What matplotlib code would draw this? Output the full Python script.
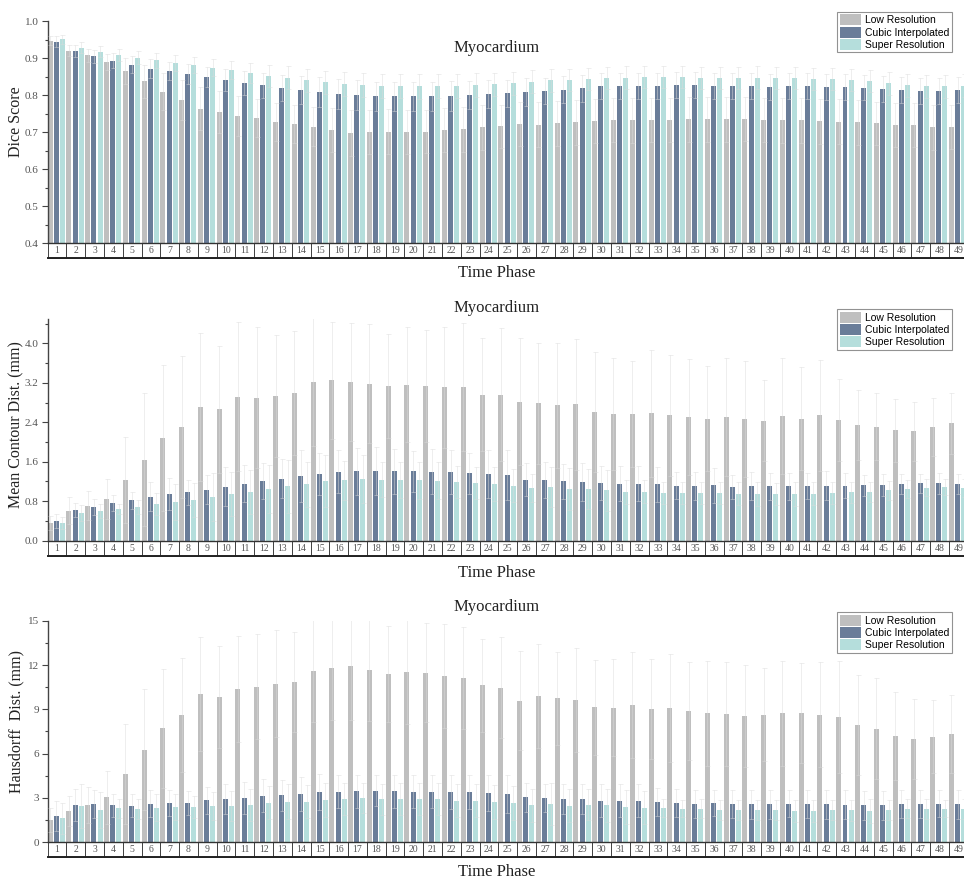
import numpy as np
import matplotlib
matplotlib.use("Agg")
import matplotlib.pyplot as plt
import matplotlib.transforms as mtransforms
from matplotlib.patches import Rectangle
from matplotlib.ticker import MultipleLocator, FormatStrFormatter

# ---- data ----
phases = list(range(1, 50))
series_names = ["Low Resolution", "Cubic Interpolated", "Super Resolution"]

dice_low = [0.948, 0.921, 0.908, 0.890, 0.865, 0.838, 0.809, 0.787, 0.764, 0.755, 0.744, 0.738, 0.728, 0.722, 0.715,
            0.706, 0.699, 0.701, 0.701, 0.701, 0.702, 0.706, 0.708, 0.713, 0.716, 0.722, 0.721, 0.724, 0.727, 0.731, 0.733, 0.732,
            0.733, 0.733, 0.735, 0.735, 0.735, 0.736, 0.733, 0.732, 0.732, 0.730, 0.729, 0.727, 0.724, 0.720, 0.719, 0.714, 0.714]
dice_cubic = [0.945, 0.919, 0.905, 0.894, 0.883, 0.872, 0.865, 0.858, 0.850, 0.841, 0.834, 0.827, 0.820, 0.815, 0.809,
              0.804, 0.800, 0.797, 0.797, 0.797, 0.797, 0.798, 0.800, 0.803, 0.805, 0.809, 0.812, 0.815, 0.819, 0.824, 0.825, 0.826,
              0.826, 0.828, 0.827, 0.826, 0.826, 0.826, 0.823, 0.825, 0.824, 0.822, 0.823, 0.821, 0.818, 0.814, 0.812, 0.812, 0.815]
dice_super = [0.951, 0.929, 0.918, 0.910, 0.902, 0.895, 0.888, 0.882, 0.875, 0.868, 0.861, 0.852, 0.847, 0.841, 0.835,
              0.831, 0.828, 0.825, 0.825, 0.824, 0.825, 0.825, 0.827, 0.830, 0.833, 0.837, 0.840, 0.841, 0.843, 0.846, 0.848, 0.850,
              0.849, 0.849, 0.847, 0.847, 0.847, 0.848, 0.846, 0.846, 0.845, 0.843, 0.841, 0.838, 0.832, 0.827, 0.824, 0.824, 0.826]
dice_low_err = [0.012, 0.015, 0.018, 0.022, 0.035, 0.045, 0.050, 0.055, 0.058, 0.057, 0.055, 0.052, 0.052, 0.052, 0.053,
                0.060, 0.062, 0.060, 0.061, 0.060, 0.059, 0.060, 0.061, 0.060, 0.059, 0.060, 0.061, 0.060, 0.060, 0.059, 0.060, 0.060,
                0.060, 0.059, 0.060, 0.061, 0.060, 0.060, 0.059, 0.060, 0.060, 0.061, 0.060, 0.060, 0.059, 0.060, 0.060, 0.061, 0.060]
dice_cubic_err = [0.015, 0.016, 0.018, 0.020, 0.022, 0.025, 0.025, 0.027, 0.027, 0.030, 0.032, 0.034, 0.036, 0.038, 0.040,
                  0.040, 0.040, 0.039, 0.040, 0.040, 0.039, 0.040, 0.038, 0.038, 0.037, 0.037, 0.036, 0.036, 0.036, 0.035, 0.035, 0.035,
                  0.035, 0.034, 0.035, 0.035, 0.035, 0.035, 0.035, 0.034, 0.035, 0.035, 0.035, 0.035, 0.035, 0.035, 0.036, 0.035, 0.035]
dice_super_err = [0.012, 0.014, 0.015, 0.016, 0.018, 0.020, 0.022, 0.022, 0.022, 0.025, 0.027, 0.030, 0.031, 0.031, 0.032,
                  0.033, 0.033, 0.033, 0.032, 0.033, 0.033, 0.032, 0.032, 0.031, 0.031, 0.031, 0.030, 0.030, 0.030, 0.030, 0.030, 0.030,
                  0.030, 0.030, 0.030, 0.030, 0.030, 0.030, 0.030, 0.030, 0.030, 0.030, 0.030, 0.030, 0.031, 0.031, 0.031, 0.031, 0.031]

mcd_low = [0.36, 0.61, 0.71, 0.85, 1.23, 1.64, 2.09, 2.30, 2.70, 2.66, 2.92, 2.90, 2.93, 2.99, 3.21,
           3.25, 3.22, 3.18, 3.13, 3.16, 3.13, 3.11, 3.11, 2.96, 2.96, 2.82, 2.78, 2.74, 2.76, 2.61, 2.57, 2.57,
           2.58, 2.54, 2.51, 2.47, 2.51, 2.47, 2.43, 2.53, 2.47, 2.54, 2.45, 2.34, 2.31, 2.24, 2.22, 2.30, 2.38]
mcd_cubic = [0.40, 0.615, 0.69, 0.757, 0.818, 0.892, 0.946, 0.98, 1.034, 1.095, 1.155, 1.21, 1.257, 1.31, 1.35,
             1.40, 1.405, 1.41, 1.405, 1.405, 1.40, 1.39, 1.365, 1.35, 1.33, 1.24, 1.23, 1.20, 1.19, 1.17, 1.155, 1.155,
             1.14, 1.115, 1.108, 1.12, 1.095, 1.108, 1.10, 1.10, 1.108, 1.115, 1.115, 1.12, 1.128, 1.155, 1.16, 1.16, 1.15]
mcd_super = [0.36, 0.561, 0.608, 0.642, 0.682, 0.743, 0.784, 0.824, 0.885, 0.946, 0.986, 1.047, 1.10, 1.142, 1.21,
             1.22, 1.25, 1.24, 1.23, 1.22, 1.216, 1.19, 1.17, 1.15, 1.115, 1.07, 1.09, 1.05, 1.05, 1.02, 0.99, 0.99,
             0.966, 0.96, 0.966, 0.96, 0.953, 0.946, 0.953, 0.946, 0.953, 0.96, 0.98, 0.993, 1.02, 1.054, 1.074, 1.088, 1.074]
mcd_low_err = [0.14, 0.27, 0.29, 0.41, 0.87, 1.35, 1.48, 1.44, 1.50, 1.29, 1.51, 1.42, 1.23, 1.26, 1.30,
               1.19, 1.20, 1.21, 1.05, 1.16, 1.13, 1.23, 1.30, 1.14, 1.34, 1.29, 1.23, 1.26, 1.32, 1.21, 1.13, 1.07,
               1.28, 1.22, 1.17, 1.06, 1.20, 1.18, 0.82, 1.18, 1.04, 1.12, 0.83, 0.71, 0.68, 0.64, 0.60, 0.59, 0.62]
mcd_cubic_err = [0.15, 0.14, 0.16, 0.16, 0.17, 0.29, 0.33, 0.26, 0.30, 0.39, 0.37, 0.37, 0.40, 0.52, 0.43,
                 0.44, 0.47, 0.48, 0.45, 0.41, 0.46, 0.45, 0.42, 0.48, 0.51, 0.34, 0.36, 0.35, 0.38, 0.35, 0.35, 0.35,
                 0.35, 0.28, 0.28, 0.36, 0.24, 0.28, 0.28, 0.28, 0.27, 0.29, 0.25, 0.21, 0.22, 0.20, 0.20, 0.21, 0.21]
mcd_super_err = [0.13, 0.16, 0.14, 0.11, 0.14, 0.22, 0.36, 0.34, 0.49, 0.45, 0.45, 0.48, 0.53, 0.45, 0.53,
                 0.40, 0.49, 0.35, 0.36, 0.37, 0.37, 0.33, 0.32, 0.34, 0.33, 0.28, 0.40, 0.42, 0.40, 0.41, 0.25, 0.23,
                 0.23, 0.22, 0.22, 0.22, 0.23, 0.24, 0.22, 0.24, 0.23, 0.22, 0.21, 0.20, 0.19, 0.18, 0.17, 0.17, 0.18]

hd_low = [1.51, 2.14, 2.55, 3.05, 4.62, 6.27, 7.71, 8.59, 10.04, 9.83, 10.40, 10.53, 10.74, 10.85, 11.62,
          11.78, 11.91, 11.64, 11.39, 11.53, 11.48, 11.26, 11.14, 10.62, 10.47, 9.59, 9.90, 9.75, 9.63, 9.14, 9.11, 9.29,
          9.02, 9.09, 8.87, 8.73, 8.69, 8.55, 8.64, 8.73, 8.73, 8.64, 8.48, 7.92, 7.69, 7.20, 6.99, 7.15, 7.31]
hd_cubic = [1.78, 2.50, 2.57, 2.50, 2.48, 2.62, 2.66, 2.68, 2.84, 2.93, 3.00, 3.14, 3.18, 3.25, 3.41,
            3.43, 3.45, 3.50, 3.45, 3.43, 3.43, 3.41, 3.38, 3.34, 3.27, 3.05, 2.98, 2.93, 2.91, 2.82, 2.80, 2.82,
            2.73, 2.66, 2.59, 2.66, 2.59, 2.57, 2.57, 2.62, 2.59, 2.57, 2.53, 2.50, 2.50, 2.57, 2.57, 2.62, 2.57]
hd_super = [1.62, 2.46, 2.19, 2.30, 2.26, 2.35, 2.41, 2.39, 2.46, 2.46, 2.53, 2.68, 2.75, 2.75, 2.89,
            2.91, 3.00, 2.93, 2.91, 2.93, 2.91, 2.82, 2.82, 2.73, 2.64, 2.50, 2.59, 2.48, 2.53, 2.50, 2.41, 2.35,
            2.30, 2.28, 2.28, 2.21, 2.19, 2.19, 2.19, 2.14, 2.14, 2.19, 2.17, 2.12, 2.19, 2.28, 2.23, 2.28, 2.26]
hd_low_err = [0.79, 1.02, 1.22, 1.78, 3.41, 4.11, 4.04, 3.86, 3.88, 3.48, 3.59, 3.55, 3.61, 3.41, 3.50,
              3.50, 3.60, 3.40, 3.25, 3.50, 3.34, 3.49, 3.46, 3.14, 3.40, 3.36, 3.50, 3.15, 3.50, 3.20, 3.30, 3.60,
              3.39, 3.63, 3.33, 3.56, 3.51, 3.43, 3.14, 3.56, 3.38, 3.54, 3.77, 3.38, 3.41, 3.00, 2.69, 2.48, 2.64]
hd_cubic_err = [1.00, 1.09, 0.95, 0.79, 0.79, 0.90, 0.86, 0.82, 0.90, 0.99, 1.08, 1.12, 1.04, 1.15, 1.19,
                1.13, 1.10, 1.06, 1.10, 1.12, 1.10, 1.14, 1.15, 1.20, 1.28, 0.98, 0.95, 1.00, 1.02, 1.10, 1.12, 1.10,
                0.95, 0.92, 0.95, 0.90, 0.95, 0.97, 0.97, 0.92, 0.95, 0.97, 0.98, 1.00, 1.00, 0.95, 0.95, 0.92, 0.97]
hd_super_err = [1.04, 1.46, 1.24, 0.65, 0.69, 0.92, 0.88, 0.77, 0.95, 0.99, 1.08, 1.13, 1.20, 1.11, 1.15,
                1.08, 1.00, 1.05, 1.08, 1.06, 1.08, 1.10, 1.10, 1.12, 1.15, 1.10, 1.40, 1.10, 1.05, 1.10, 1.15, 1.10,
                0.60, 0.60, 0.62, 0.68, 0.70, 0.70, 0.70, 0.75, 0.75, 0.70, 0.72, 0.78, 0.70, 0.62, 0.68, 0.60, 0.65]

colors = ["#bfbfbf", "#6a7d99", "#b5dedc"]
offsets = [-0.367, -0.035, 0.286]
bar_w = 0.266

serif = "Liberation Serif"
W, H = 964, 880


def draw_panel(ax, vals, errs, ylim, major, minor, fmt, ylabel, ylab_y, title, title_y, xlab_y, leg_top):
    x = np.array(phases)
    for k in range(3):
        ax.bar(x + offsets[k], vals[k], width=bar_w, color=colors[k], label=series_names[k], zorder=2)
        ax.errorbar(x + offsets[k], vals[k], yerr=errs[k], fmt="none", ecolor="#dadada", alpha=0.55,
                    elinewidth=0.6, capsize=1.8, capthick=0.6, zorder=3)
    ax.set_xlim(0.5, 49.5)
    ax.set_ylim(*ylim)
    ax.yaxis.set_major_locator(MultipleLocator(major))
    ax.yaxis.set_minor_locator(MultipleLocator(minor))
    ax.yaxis.set_major_formatter(FormatStrFormatter(fmt))
    ax.tick_params(axis="y", which="major", length=4, width=0.8, color="#444", labelsize=8,
                   labelcolor="#555", pad=2.5)
    ax.tick_params(axis="y", which="minor", length=2, width=0.8, color="#444")
    for lab in ax.get_yticklabels():
        lab.set_family(serif)
    ax.set_xticks([])
    for s in ["top", "right"]:
        ax.spines[s].set_visible(False)
    ax.spines["left"].set_color("#444")
    ax.spines["bottom"].set_color("#333")
    ax.spines["left"].set_linewidth(1.0)
    ax.spines["bottom"].set_linewidth(1.0)

    # numbered boxes under the axis
    trans = mtransforms.blended_transform_factory(ax.transData, ax.transAxes)
    bh = 15.0 / (ax.get_position().height * H)
    for i in phases:
        ax.add_patch(Rectangle((i - 0.5, -bh), 1, bh, transform=trans, fill=False,
                               edgecolor="#444", lw=0.7, clip_on=False))
        ax.text(i, -bh / 2, str(i), transform=trans, ha="center", va="center",
                fontsize=7, color="#555", family=serif)
    ax.plot([0.5, 49.7], [-bh, -bh], transform=trans, color="#222", lw=1.4, clip_on=False)

    fig.text(16 / W, 1 - ylab_y / H, ylabel, rotation=90, ha="center", va="center",
             fontsize=11.5, family=serif, color="#222")
    fig.text(497 / W, 1 - title_y / H, title, ha="center", va="center", fontsize=12, family=serif, color="#222")
    fig.text(497 / W, 1 - xlab_y / H, "Time Phase", ha="center", va="center", fontsize=12, family=serif, color="#222")

    leg = ax.legend(loc="upper right", bbox_to_anchor=(952 / W, 1 - leg_top / H), bbox_transform=fig.transFigure,
                    prop={"family": "Liberation Sans", "size": 7.5}, frameon=True, fancybox=False,
                    edgecolor="#777", handlelength=2.1, handleheight=1.25, labelspacing=0.12,
                    borderpad=0.25, handletextpad=0.35, borderaxespad=0)
    leg.get_frame().set_linewidth(0.8)


fig = plt.figure(figsize=(W / 100, H / 100), dpi=100)
left = 47.7 / W
width = 920 / W
ax1 = fig.add_axes([left, 1 - 243.3 / H, width, 222 / H])
ax2 = fig.add_axes([left, 1 - 540.7 / H, width, 221.4 / H])
ax3 = fig.add_axes([left, 1 - 842.3 / H, width, 221.6 / H])

draw_panel(ax1, [dice_low, dice_cubic, dice_super], [dice_low_err, dice_cubic_err, dice_super_err],
           (0.4, 1.0), 0.1, 0.05, "%.1f", "Dice Score", 122, "Myocardium", 48, 273, 11.7)
draw_panel(ax2, [mcd_low, mcd_cubic, mcd_super], [mcd_low_err, mcd_cubic_err, mcd_super_err],
           (0.0, 4.486), 0.8, 0.4, "%.1f", "Mean Contour Dist. (mm)", 425, "Myocardium", 308, 573, 309)
draw_panel(ax3, [hd_low, hd_cubic, hd_super], [hd_low_err, hd_cubic_err, hd_super_err],
           (0, 15), 3, 1.5, "%d", "Hausdorff  Dist. (mm)", 721, "Myocardium", 607, 872, 612)

fig.savefig("out.png", dpi=100)
